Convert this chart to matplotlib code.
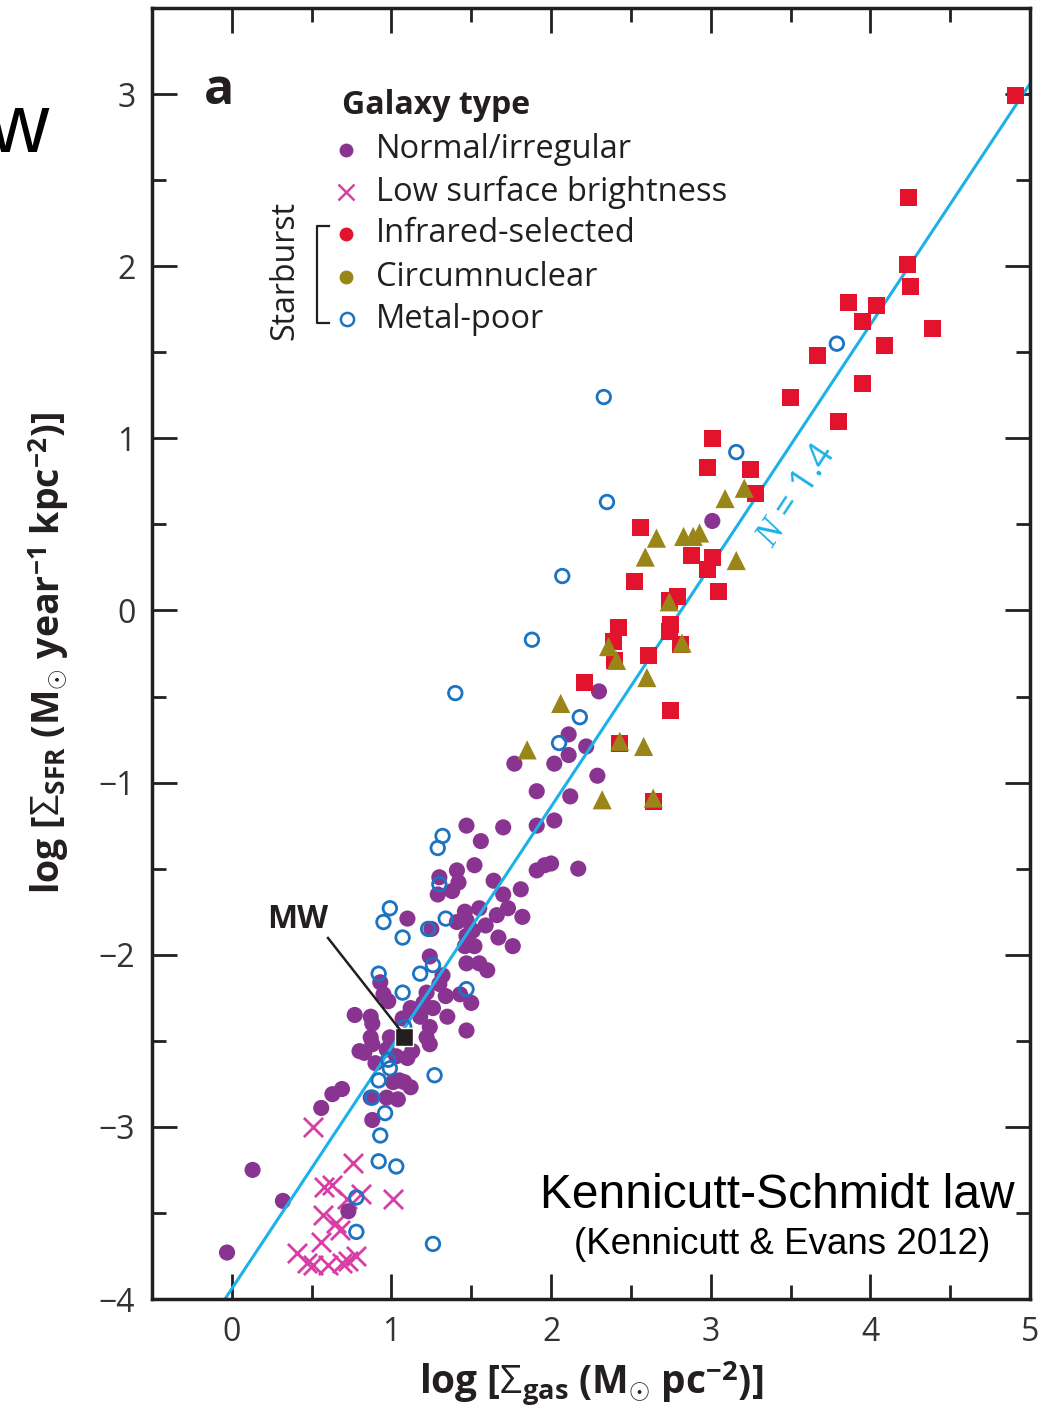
import matplotlib
matplotlib.use("Agg")
import matplotlib.pyplot as plt
from matplotlib.lines import Line2D
import numpy as np

plt.rcParams['font.family'] = ['Open Sans', 'DejaVu Sans']
plt.rcParams['mathtext.fontset'] = 'custom'
plt.rcParams['mathtext.rm'] = 'Open Sans'
plt.rcParams['mathtext.bf'] = 'Open Sans:bold'
plt.rcParams['mathtext.it'] = 'Liberation Serif:italic'

# ---- data: log gas surface density vs log SFR surface density ----
normal_x = [3.01, 2.30, 2.11, 2.22, 2.11, 2.02, 1.77, 2.29, 1.91, 2.12, 2.02, 1.91, 1.70,
            1.47, 1.56, 1.52, 1.41, 1.30, 1.42, 1.38, 1.29, 1.64, 1.70, 1.81, 1.91, 1.96,
            2.00, 2.17, 1.10, 1.25, 1.46, 1.55, 1.41, 1.47, 1.66, 1.73, 1.82, 1.59, 1.51,
            1.47, 1.67, 1.76, 1.46, 1.52, 1.24, 1.47, 1.55, 1.60, 1.32,
            0.93, 0.95, 0.98, 1.22, 1.30, 1.34, 1.43, 1.50, 1.12, 1.20, 1.26, 1.18, 1.35,
            1.07, 0.77, 0.87, 0.88, 1.24, 1.22, 1.47, 0.87, 0.99, 0.88, 1.24, 0.80, 0.83,
            0.97, 1.13, 1.10, 0.90, 1.03, 1.05, 1.08, 1.12, 1.01, 0.97, 1.04, 0.87, 0.63,
            0.69, 0.56, 0.88, 0.13, 0.32, 0.73, -0.03]
normal_y = [0.52, -0.47, -0.72, -0.79, -0.84, -0.89, -0.89, -0.96, -1.05, -1.08, -1.22, -1.25,
            -1.26, -1.25, -1.34, -1.48, -1.51, -1.55, -1.58, -1.63, -1.65, -1.57, -1.65, -1.62,
            -1.51, -1.48, -1.47, -1.50, -1.79, -1.85, -1.75, -1.73, -1.81, -1.80, -1.77, -1.73,
            -1.78, -1.83, -1.86, -1.89, -1.90, -1.95, -1.95, -1.95, -2.01, -2.05, -2.05, -2.09,
            -2.12,
            -2.16, -2.23, -2.27, -2.22, -2.17, -2.24, -2.23, -2.28, -2.31, -2.28, -2.31, -2.36,
            -2.36, -2.37, -2.35, -2.36, -2.40, -2.42, -2.48, -2.44, -2.48, -2.48, -2.52, -2.52,
            -2.56, -2.57, -2.55, -2.56, -2.60, -2.63, -2.59, -2.73, -2.74, -2.77, -2.74, -2.83,
            -2.84, -2.83, -2.81, -2.78, -2.89, -2.96, -3.25, -3.43, -3.49, -3.73]

lsb_x = [0.51, 0.76, 0.58, 0.63, 0.72, 0.81, 1.01, 0.57, 0.65, 0.68, 0.56, 0.41, 0.47,
         0.51, 0.60, 0.69, 0.73, 0.78]
lsb_y = [-3.00, -3.21, -3.35, -3.34, -3.42, -3.39, -3.42, -3.51, -3.56, -3.60, -3.67, -3.73,
         -3.79, -3.80, -3.80, -3.79, -3.78, -3.75]

ir_x = [4.91, 4.24, 4.23, 4.25, 4.39, 3.86, 4.04, 3.95, 4.09, 3.67, 3.95, 3.50, 3.80, 3.01,
        2.98, 3.25, 3.28, 2.56, 2.88, 3.01, 2.98, 2.52, 3.05, 2.74, 2.79, 2.75, 2.74, 2.42,
        2.39, 2.81, 2.40, 2.61, 2.21, 2.75, 2.43, 2.64]
ir_y = [2.99, 2.40, 2.01, 1.88, 1.64, 1.79, 1.77, 1.68, 1.54, 1.48, 1.32, 1.24, 1.10, 1.00,
        0.83, 0.82, 0.68, 0.48, 0.32, 0.31, 0.24, 0.17, 0.11, 0.06, 0.08, -0.08, -0.12, -0.10,
        -0.18, -0.20, -0.29, -0.26, -0.42, -0.58, -0.77, -1.11]

cn_x = [3.21, 3.09, 2.66, 2.83, 2.89, 2.93, 3.16, 2.59, 2.74, 2.36, 2.41, 2.82, 2.60, 2.06,
        1.85, 2.43, 2.58, 2.32, 2.64]
cn_y = [0.71, 0.65, 0.42, 0.43, 0.43, 0.45, 0.29, 0.31, 0.05, -0.21, -0.29, -0.19, -0.39,
        -0.54, -0.81, -0.76, -0.79, -1.10, -1.09]

mp_x = [3.79, 3.16, 2.33, 2.35, 2.07, 1.88, 1.40, 2.18, 2.05, 1.32, 1.29, 1.30, 0.99, 0.95,
        1.07, 1.23, 1.34, 0.92, 1.18, 1.26, 1.07, 1.47, 1.08, 0.98, 0.99, 1.27, 0.92, 0.88,
        0.96, 0.93, 0.92, 1.03, 0.78, 0.78, 1.26]
mp_y = [1.55, 0.92, 1.24, 0.63, 0.20, -0.17, -0.48, -0.62, -0.77, -1.31, -1.38, -1.59, -1.73,
        -1.81, -1.90, -1.85, -1.79, -2.11, -2.11, -2.06, -2.22, -2.20, -2.42, -2.61, -2.66,
        -2.70, -2.73, -2.83, -2.92, -3.05, -3.20, -3.23, -3.41, -3.61, -3.68]

mw_x, mw_y = 1.08, -2.48

fit_slope = 1.4
fit_intercept = -3.94
fit_range = [-0.6, 5.1]

x_ticks = [0, 1, 2, 3, 4, 5]
y_ticks = [-4, -3, -2, -1, 0, 1, 2, 3]

# ---- colours ----
C_NORMAL = '#8a3492'
C_LSB = '#d93ea6'
C_IR = '#e3132e'
C_CN = '#9a8519'
C_MP = '#1b74c2'
C_FIT = '#1cb1e8'
C_AX = '#231f20'

W, H = 1052, 1417
fig = plt.figure(figsize=(W / 100, H / 100), dpi=100)
ax = fig.add_axes([152 / W, 1 - 1299 / H, (1030 - 152) / W, (1299 - 8) / H])


def fx(px):
    return px / W


def fy(py):
    return 1 - py / H


ax.scatter(lsb_x, lsb_y, marker='x', s=190, c=C_LSB, linewidths=2.0, zorder=2)
ax.scatter(normal_x, normal_y, marker='o', s=135, c=C_NORMAL, edgecolors='none', zorder=2.2)
xf = np.array(fit_range)
ax.plot(xf, fit_slope * xf + fit_intercept, color=C_FIT, lw=2.2, zorder=2.5)
ax.scatter(mp_x, mp_y, marker='o', s=95, facecolors='none', edgecolors=C_MP,
           linewidths=2.0, zorder=3)
ax.scatter(ir_x, ir_y, marker='s', s=150, c=C_IR, edgecolors='none', zorder=3.2)
ax.scatter(cn_x, cn_y, marker='^', s=190, c=C_CN, edgecolors='none', zorder=3.4)
ax.scatter([mw_x], [mw_y], marker='s', s=170, c=C_AX, edgecolors='white',
           linewidths=1.0, zorder=4)

ax.set_xlim(-0.5, 5.0)
ax.set_ylim(-4.0, 3.5)
ax.set_xticks(x_ticks)
ax.set_yticks(y_ticks)
ax.set_xticklabels([str(v) for v in x_ticks])
ax.set_yticklabels([str(v).replace('-', '\u2212') for v in y_ticks])
ax.set_xticks(np.arange(-0.5, 5.01, 0.5), minor=True)
ax.set_yticks(np.arange(-4, 3.51, 0.5), minor=True)
ax.tick_params(which='both', direction='in', top=True, right=True, color=C_AX,
               labelsize=23, labelcolor='#333333')
ax.tick_params(which='major', length=18, width=2.0, pad=12)
ax.tick_params(which='minor', length=10, width=2.0)
for sp in ax.spines.values():
    sp.set_linewidth(2.5)
    sp.set_color(C_AX)

ax.set_xlabel(r'log [$\mathit{\Sigma}_{\mathbf{gas}}$ (M$_{\odot}$ pc$^{\mathbf{-2}}$)]',
              fontsize=28, fontweight='bold', color=C_AX, labelpad=8)
ax.set_ylabel(r'log [$\mathit{\Sigma}_{\mathbf{SFR}}$ (M$_{\odot}$ year$^{\mathbf{-1}}$ kpc$^{\mathbf{-2}}$)]',
              fontsize=27, fontweight='bold', color=C_AX, labelpad=20)

# panel letter
fig.text(fx(204), fy(104), 'a', fontsize=36, fontweight='bold', color=C_AX,
         ha='left', va='baseline')

# legend
fig.text(fx(342), fy(106), 'Galaxy type', fontsize=23, fontweight='bold', color=C_AX,
         ha='left', va='center')
legend_rows = [
    ('Normal/irregular', 'o', C_NORMAL, True),
    ('Low surface brightness', 'x', C_LSB, True),
    ('Infrared-selected', 'o', C_IR, True),
    ('Circumnuclear', 'o', C_CN, True),
    ('Metal-poor', 'o', C_MP, False),
]
row_y = [150, 192, 234, 277, 319]
for (label, mk, col, filled), py in zip(legend_rows, row_y):
    if mk == 'x':
        fig.add_artist(Line2D([fx(346)], [fy(py)], marker='x', ms=11, mew=1.8, color=col,
                              linestyle='none'))
    elif filled:
        fig.add_artist(Line2D([fx(346)], [fy(py)], marker='o', ms=10, color=col,
                              mec='none', linestyle='none'))
    else:
        fig.add_artist(Line2D([fx(347)], [fy(py)], marker='o', ms=9.5, mfc='none', mec=col,
                              mew=1.8, linestyle='none'))
    fig.text(fx(376), fy(py), label, fontsize=23.5, color=C_AX, ha='left', va='center')

# starburst bracket
fig.add_artist(Line2D([fx(329), fx(317), fx(317), fx(329)],
                      [fy(226), fy(226), fy(323), fy(323)], color=C_AX, lw=1.6))
fig.text(fx(285), fy(270), 'Starburst', fontsize=23, color=C_AX, rotation=90,
         ha='center', va='center')

# slope label along the fit line
fig.text(fx(797), fy(496), r'$N$ = 1.4', fontsize=26, color=C_FIT, rotation=56.5,
         rotation_mode='anchor', ha='center', va='center',
         family=['Open Sans', 'DejaVu Sans'])

# Milky Way marker label
fig.add_artist(Line2D([fx(328), fx(401)], [fy(938), fy(1031)], color=C_AX, lw=1.8))
fig.text(fx(298), fy(920), 'MW', fontsize=23, fontweight='bold', color=C_AX,
         ha='center', va='center')

# title block
fig.text(fx(1015), fy(1196), 'Kennicutt-Schmidt law', fontsize=34.5, color='black',
         family='Liberation Sans', ha='right', va='center')
fig.text(fx(990), fy(1245), '(Kennicutt & Evans 2012)', fontsize=26.5, color='black',
         family='Liberation Sans', ha='right', va='center')
fig.text(fx(50), fy(152), 'law', fontsize=60, color='black', family='Liberation Sans',
         ha='right', va='baseline')

fig.savefig('out.png', dpi=100)
